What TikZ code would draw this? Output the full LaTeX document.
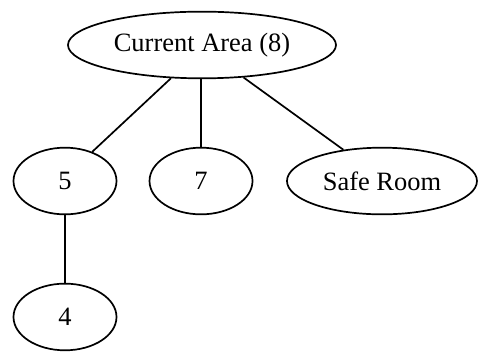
\documentclass[tikz,border=0pt]{standalone}
\usepackage{fontspec}
\setmainfont{Liberation Serif}
\usetikzlibrary{shapes.geometric}
\tikzset{
    every node/.style={ellipse, inner sep=0mm, draw, line width=0.9pt, minimum width=1.916cm, minimum height=1.24cm, font=\fontsize{14pt}{16pt}\selectfont}
}
\tikzset{wide/.style={minimum width=4.985cm}}
\tikzset{room/.style={minimum width=3.534cm}}

\begin{document}
\begin{tikzpicture}[line width=0.9pt]
        \useasboundingbox (0cm, 0cm) rectangle (8.891cm, -6.584cm);
        \node (ca) [wide] at (3.757cm, -0.837cm) {Current Area (8)};
        \node (n5) at (1.209cm, -3.367cm) {5};
        \node (n7) at (3.739cm, -3.367cm) {7};
        \node (sr) [room] at (7.105cm, -3.367cm) {Safe Room};
        \node (n4) at (1.209cm, -5.896cm) {4};
        \draw (ca.227) edge (n5.47);
        \draw (n7.north |- ca.south) edge (n7.north);
        \draw (ca.322) edge (sr.141);
        \draw (n5.south) edge (n4.north);
\end{tikzpicture}
\end{document}
